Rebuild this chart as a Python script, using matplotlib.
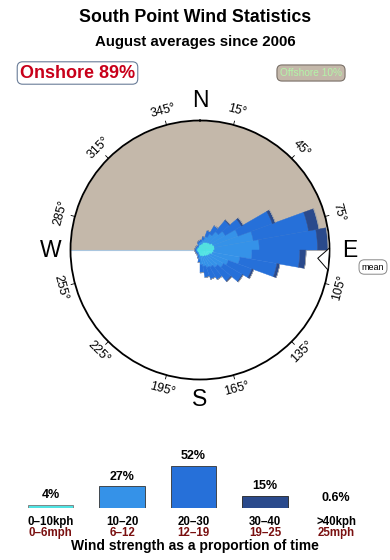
import numpy as np
import matplotlib
matplotlib.use('Agg')
import matplotlib.pyplot as plt

plt.rcParams['font.family'] = ['Liberation Sans', 'DejaVu Sans']

# wind direction bins (centre, degrees) and % of time per speed class
directions = np.arange(5, 360, 10)
spd_0_10 = [0.5, 0.6, 0.8, 0.9, 1.0, 1.1, 1.3, 1.4, 1.4, 1.3, 1.2, 1.0, 0.9, 0.8, 0.7, 0.7, 0.6, 0.6,
            0.5, 0.4, 0.3, 0.3, 0.3, 0.3, 0.3, 0.3, 0.3, 0.3, 0.3, 0.3, 0.3, 0.3, 0.3, 0.3, 0.4, 0.5]
spd_10_20 = [0.3, 0.4, 0.6, 0.9, 1.3, 1.7, 2.6, 3.8, 4.3, 3.7, 2.7, 1.9, 1.7, 1.4, 1.2, 1.1, 1.0, 0.8,
             0.4, 0.2, 0.2, 0.1, 0.1, 0.1, 0.1, 0.1, 0.1, 0.1, 0.1, 0.1, 0.1, 0.1, 0.1, 0.1, 0.2, 0.2]
spd_20_30 = [0.2, 0.3, 0.6, 0.9, 1.4, 1.8, 3.5, 5.4, 5.6, 4.6, 3.6, 2.4, 2.1, 1.7, 1.4, 1.2, 1.1, 0.8,
             0.3, 0.2, 0.1, 0.1, 0.1, 0.1, 0.1, 0.1, 0.1, 0.1, 0.1, 0.1, 0.1, 0.1, 0.1, 0.1, 0.2, 0.2]
spd_30_40 = [0, 0, 0, 0, 0.1, 0.2, 0.3, 1.0, 1.0, 0.6, 0.3, 0.2, 0.1, 0.1, 0, 0, 0, 0,
             0, 0, 0, 0, 0, 0, 0, 0, 0, 0, 0, 0, 0, 0, 0, 0, 0, 0]
spd_40 = [0, 0, 0, 0, 0, 0, 0, 0.05, 0.05, 0, 0, 0, 0, 0, 0, 0, 0, 0,
          0, 0, 0, 0, 0, 0, 0, 0, 0, 0, 0, 0, 0, 0, 0, 0, 0, 0]
mean_dir = 94

# speed class summary
class_kph = ['0\u201310kph', '10\u201320', '20\u201330', '30\u201340', '>40kph']
class_mph = ['0\u20136mph', '6\u201312', '12\u201319', '19\u201325', '25mph']
class_pct = [4, 27, 52, 15, 0.6]
class_lbl = ['4%', '27%', '52%', '15%', '0.6%']
colors = ['#4fe3e3', '#3592e8', '#2670d9', '#2a4a8c', '#a8a8a8']

tick_degs = np.arange(15, 360, 30)
compass = {'N': 0, 'E': 90, 'S': 180, 'W': 270}

W, H = 390, 560
fig = plt.figure(figsize=(W / 100, H / 100), dpi=100)

# titles
fig.text(0.5, 1 - 18 / H, 'South Point Wind Statistics', ha='center', va='center',
         fontsize=12.8, fontweight='bold')
fig.text(0.5, 1 - 42 / H, 'August averages since 2006', ha='center', va='center',
         fontsize=10.8, fontweight='bold')

fig.text(77.5 / W, 1 - 73 / H, 'Onshore 89%', ha='center', va='center', fontsize=13,
         fontweight='bold', color='#c8001a',
         bbox=dict(boxstyle='round,pad=0.15,rounding_size=0.3', fc='white', ec='#6a7d98', lw=0.8))
fig.text(311 / W, 1 - 73 / H, 'Offshore 10%', ha='center', va='center', fontsize=7.3,
         color='#b4f5a8',
         bbox=dict(boxstyle='round,pad=0.3,rounding_size=0.5', fc='#c4b8aa', ec='#7a7068', lw=0.8))

# wind rose
cx, cy, rad = 200, 250, 129.5
ax = fig.add_axes([(cx - rad) / W, 1 - (cy + rad) / H, 2 * rad / W, 2 * rad / H], projection='polar')
ax.set_theta_zero_location('N')
ax.set_theta_direction(-1)
rmax = 12.45
ax.set_ylim(0, rmax)
ax.set_xticks([])
ax.set_yticks([])
ax.grid(False)
ax.spines['polar'].set_linewidth(1.3)

half = np.linspace(-np.pi / 2, np.pi / 2, 200)
ax.fill_between(half, 0, rmax, color='#c4b8aa', lw=0, zorder=0)
ax.plot([-np.pi / 2, -np.pi / 2], [0, rmax], color='#a9c6df', lw=0.8, zorder=1)

theta = np.radians(directions)
width = np.radians(10)
bottom = np.zeros(len(directions))
for vals, c in zip([spd_0_10, spd_10_20, spd_20_30, spd_30_40, spd_40], colors):
    vals = np.array(vals)
    ax.bar(theta, vals, width=width, bottom=bottom, color=c, ec=c, lw=0.3, zorder=3)
    bottom = bottom + vals

# mean direction arrow
ax.annotate('', xy=(np.radians(mean_dir), rmax * 0.89), xytext=(np.radians(mean_dir), rmax * 1.0),
            arrowprops=dict(arrowstyle='simple,head_length=0.8,head_width=1.6,tail_width=0.85',
                            fc='white', ec='black', lw=0.7), zorder=5, annotation_clip=False)
fig.text(373 / W, 1 - 267 / H, 'mean', ha='center', va='center', fontsize=6.5,
         bbox=dict(boxstyle='round,pad=0.3,rounding_size=0.6', fc='white', ec='#888888', lw=0.7))

for d in tick_degs:
    t = np.radians(d)
    ax.plot([t, t], [rmax, rmax * 1.03], color='black', lw=0.6, clip_on=False)
    rot = (-d) % 360
    if rot > 180:
        rot -= 360
    if rot > 90:
        rot -= 180
    elif rot < -90:
        rot += 180
    ax.text(t, rmax * 1.112, '%d\u00b0' % d, rotation=rot, rotation_mode='anchor',
            ha='center', va='center', fontsize=9)

for k, d in compass.items():
    ax.text(np.radians(d), rmax * 1.155, k, ha='center', va='center', fontsize=16.5)

# speed class bars
bx = fig.add_axes([15 / W, 1 - 508 / H, 357 / W, 48.6 / H])
xs = np.arange(len(class_pct))
bx.bar(xs, class_pct, width=0.635, color=colors, ec=['#777777', '#333333', '#333333', '#222222', '#999999'],
       lw=0.6)
bx.set_xlim(-0.5, 4.5)
bx.set_ylim(0, 60)
bx.axis('off')
for x, p, lbl, k, m in zip(xs, class_pct, class_lbl, class_kph, class_mph):
    bx.annotate(lbl, (x, p), xytext=(0, 6.8), textcoords='offset points', ha='center', va='center',
                fontsize=9, fontweight='bold', annotation_clip=False)
    bx.annotate(k, (x, 0), xytext=(0, -9.8), textcoords='offset points', ha='center', va='center',
                fontsize=8.3, fontweight='bold', annotation_clip=False)
    bx.annotate(m, (x, 0), xytext=(0, -17.8), textcoords='offset points', ha='center', va='center',
                fontsize=8.3, fontweight='bold', color='#7a1010', annotation_clip=False)
fig.text(0.5, 1 - 546 / H, 'Wind strength as a proportion of time', ha='center', va='center',
         fontsize=10, fontweight='bold')

fig.savefig('out.png', dpi=100)
